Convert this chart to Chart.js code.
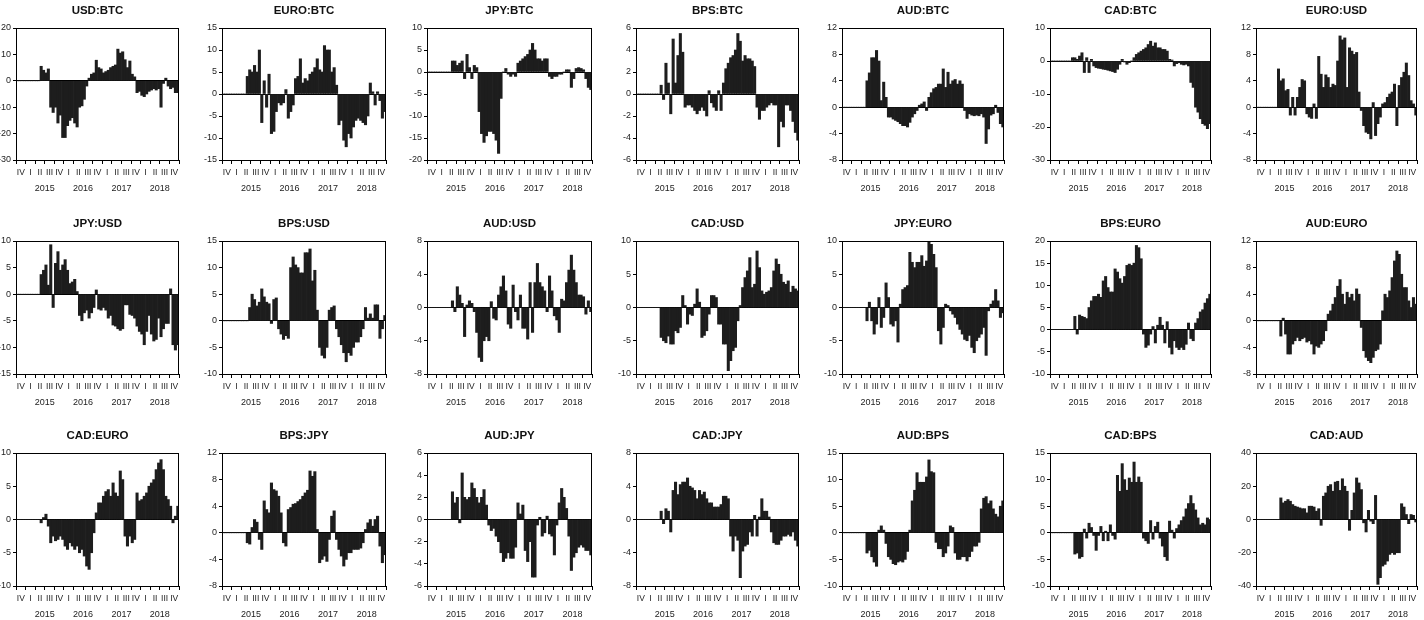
<!DOCTYPE html>
<html>
<head>
<meta charset="utf-8">
<title>Exchange rate pairs</title>
<script src="https://cdn.jsdelivr.net/npm/chart.js@4.4.1/dist/chart.umd.min.js"></script>
<style>
  html, body { margin: 0; padding: 0; background: #fff; }
  #board { position: relative; width: 1424px; height: 620px; overflow: hidden; }
  #board canvas { position: absolute; }
</style>
</head>
<body>
<div id="board"></div>
<script>
"use strict";

// x axis: 2014 Q4 .. 2018 Q4, four bars per quarter
const quarterLabels = ["IV", "I", "II", "III", "IV", "I", "II", "III", "IV", "I", "II", "III", "IV", "I", "II", "III", "IV"];
const yearLabels = ["2015", "2016", "2017", "2018"];
const yearTicks = [3, 7, 11, 15];

// ====SERIES====
const usdBtc = [0,0,0,0,0,0,0,0,0,0,
  5.5,4,3,4.5,-10,-12,-10,-16,-13,-21.5,
  -21.5,-17,-15,-14,-16,-17.5,-10,-9.5,-7,-2,
  1,2.5,3,7.8,5,4.5,3,3.5,4,5,
  5.5,6,12,10.5,11,8,5,7.5,2.5,1.5,
  -4.5,-4,-5.5,-6,-5,-4,-3.5,-3,-3.5,-3,
  -10,-1,1,-2,-3,-2.5,-4.5,-4.5];
const euroBtc = [0,0,0,0,0,0,0,0,0,0,
  4,5.5,5,6.5,5,10,-6.5,3,-3,4.5,
  -9,-8.5,-4,-2,-2.5,-2,1,-5.5,-4,-2.5,
  3.5,4,8,2.5,3.5,3,4.5,5,6,8,
  5.5,5,11,10,10,5,6,2,-7,-6,
  -10.5,-12,-9,-10,-7.5,-6,-5.5,-6,-6.5,-7,
  -5,2.5,0.5,-2.5,0.5,-1.5,-5.5,-4];
const jpyBtc = [0,0,0,0,0,0,0,0,0,0,
  2.5,2.5,1.5,2,2.5,-1.5,4,1,-1.5,1.5,
  1,-9,-14,-16,-14.5,-13.5,-13.5,-14,-15.5,-18.5,
  -6,0,0.8,-0.5,-1,-0.5,-1,2,2.5,3,
  3.5,4,5,6.5,5,3,3,2.5,3,3,
  -1,-1.5,-1,-1,-0.5,-0.5,0,0.5,0.5,-3.5,
  -1.5,0.8,1,0.8,0.5,-1.5,-3.5,-4];
const bpsBtc = [0,0,0,0,0,0,0,0,0,0,
  0.8,-0.5,2.8,1,-1.8,5,1,3.5,5.5,3.8,
  -1.2,-1,-1,-1.2,-1.5,-1.8,-1.5,-1.2,-1.5,-2,
  0.3,-0.8,-1.2,-1.5,0.3,-1.5,1,2.3,2.8,3.3,
  3.5,4,5.5,4.8,3,3.5,3.2,3.2,3,2.5,
  -1.2,-2.3,-1.5,-1.5,-1.2,-1,-0.8,-1,-1,-4.8,
  -2.5,-3,-1,-1,-1.5,-2.5,-3.5,-4.2];
const audBtc = [0,0,0,0,0,0,0,0,0,0,
  4,5.2,7.5,7.5,8.6,7,1,3.8,1.5,-1.5,
  -1.5,-1.8,-2,-2.2,-2.5,-2.8,-2.8,-3,-2.3,-1.5,
  -1,-0.5,0.3,0.5,0.8,-0.5,1.5,2.2,2.8,3,
  3.5,3.5,5.8,3,5.3,3.5,4,4.2,3.5,4,
  3.5,-0.5,-1.7,-1,-1.2,-1.3,-1.2,-1.3,-1,-1.5,
  -5.5,-3.3,-1.2,-1,0.3,-0.8,-2.5,-3];
const cadBtc = [0,0,0,0,0,0,0,0,0,1,
  1,0.5,1.5,2.5,-3.5,1,-3.5,0.5,-1.5,-2,
  -2.2,-2.3,-2.5,-2.6,-2.8,-3,-3.2,-3.5,-2.5,-1,
  0.5,-0.3,-1,-0.5,0,1,2,2.5,3,3.5,
  4,5,6,4.5,5.5,4,4,3.5,3.5,3,
  0.5,0.3,-1.5,-0.8,-0.5,-1,-1.2,-1,-1.5,-6.5,
  -8,-14,-15.5,-17.5,-19,-19.5,-20.5,-19];
const euroUsd = [0,0,0,0,0,0,0,0,0,5.8,
  4,4.3,2.5,2.7,-1.2,1.5,-1.2,1.5,3,4.2,
  4,-1,-1.5,-1.7,0.5,-1.7,7.7,5,3,4.9,
  4.5,3,3.5,3.3,7,10.8,10.2,10.5,3,9,
  8.5,8,8.3,2.3,-0.5,-2.8,-3.8,-4,-4.8,0.7,
  -4.3,-2.5,-1.5,0.5,0.7,1.5,2,2.3,3.5,-2.8,
  3.3,4.5,5.3,6.7,4.8,1,0.5,-1.2];
const jpyUsd = [0,0,0,0,0,0,0,0,0,0,
  3.7,4.5,5.5,1.7,9.3,-2.5,5.8,8,4.5,5.5,
  6.5,4.5,2,2.3,2.8,0.5,-4,-5,-3.5,-3,
  -4.5,-3.5,-2.5,0.8,-2.8,-3,-2.5,-3,-4.5,-4,
  -5.8,-6,-6.5,-6.8,-6.5,-2,-2,-3.8,-4,-4.5,
  -6,-7,-7.5,-9.5,-7,-4,-7.5,-8.8,-8.5,-4.5,
  -8,-6.5,-5.5,-5.5,1,-9.5,-10.5,-9.5];
const bpsUsd = [0,0,0,0,0,0,0,0,0,0,
  0,2.5,5,4,2.8,3.5,6,4.5,3.5,3.2,
  -0.5,4,4.3,-1.5,-2.5,-3.5,-2.8,-3.3,10,12,
  10.5,10,9,9,12.8,12.8,13.5,7.5,9.5,2,
  -5,-6.5,-7,-5,2,2.5,2.8,-1.5,-3,-4.5,
  -6,-7.7,-6,-6.5,-5,-4,-4,-3,-1.5,2.5,
  0.5,1.3,0.5,3,3,-3.3,-1.5,1];
const audUsd = [0,0,0,0,0,0,0,0,0,0,
  0.8,-0.5,2.5,1.5,0.5,-3.5,0.3,0.8,0.5,-0.5,
  -3,-6,-6.5,-4,-3.5,-4,0.7,-1.3,-1.5,1.5,
  2.5,3.8,2,-2,-2.5,2.7,-0.5,-1.5,1.5,-2.5,
  -2.5,-3.8,3,-3,3,5.3,3,2.5,2,-0.5,
  3.8,2,-1,-1.5,-3,1,0.8,3,4.5,6.3,
  4.5,3,1.5,1.5,1.3,-0.8,0.8,-0.5];
const cadUsd = [0,0,0,0,0,0,0,0,0,0,
  -4.5,-5,-5.3,-4.3,-5.5,-5.5,-3.5,-3.8,-3,1.8,
  0.3,-2.5,-1,-1.2,0.5,2.8,0.8,-4.5,-4.2,-3.5,
  -1,1.8,1.8,1.5,-2.5,-2.5,-5.5,-5.5,-9.5,-8,
  -6.5,-6,-2,0.3,3,4.5,5.5,7.5,3,3.5,
  8.5,6,2.5,2,2.3,2.5,3,5.5,7.3,6.5,
  5,3.8,3.5,4,2.3,3.2,2.8,2.5];
const jpyEuro = [0,0,0,0,0,0,0,0,0,0,
  -2,0.8,-2,-4,-2.5,1.5,-3,-1.5,3.7,1.5,
  -2.5,-2.8,-2,-5.2,0.5,2.7,3,3.3,8.3,6.8,
  6,6.8,6.8,7.8,6.2,7,9.8,9.5,8,6,
  -3.5,-5.5,-3,0.5,0.3,-0.5,-1,-1.5,-2.5,-3.3,
  -4,-4.8,-5,-4.2,-6,-6.8,-5,-4.5,-4,-3,
  -7.2,-0.5,0.5,1,2.7,1,-1.5,-0.8];
const bpsEuro = [0,0,0,0,0,0,0,0,0,0,
  3,-1,3.3,3,2.8,2.5,5,6.5,7.5,7.5,
  8,7.3,11,12,9.5,8.5,8.5,13.7,13,11.5,
  10.5,12,14.5,14.8,14.5,15,19,18.5,16,-1,
  -4,-3.5,-1,0.7,-3,1,2.8,1,-3,1.8,
  -4,-5.5,-2.5,-4,-4.5,-4,-4.5,-3.3,1.5,-2,
  -2.5,1.5,2.5,4,4.5,6,7,8];
const audEuro = [0,0,0,0,0,0,0,0,0,0,
  -2.3,0.4,-2,-5,-5,-3.5,-3,-2.5,-3,-2.7,
  -2.5,-3.2,-3,-3.5,-5,-3.8,-4,-3.5,-3,-1.5,
  1,1.5,2.5,3.5,5.2,6.2,4,2.5,4.3,3.5,
  4,3,4.8,4,-1,-4.5,-5.5,-6,-6.3,-5.5,
  -4.5,-4.3,-3.5,1.5,4,3.5,4.5,6.5,9,10.5,
  10,7,5,5,3,2,3.5,2.5];
const cadEuro = [0,0,0,0,0,0,0,0,0,0,
  -0.5,0.3,0.8,-1,-3.5,-2.5,-3.2,-3,-2.5,-3,
  -4,-4.5,-3.5,-4,-4.5,-4,-5,-4.5,-5.5,-7,
  -7.5,-5,-2,1,2.5,2.5,3.5,4.2,4.5,3.5,
  5.5,4,3.5,7.3,6,-2.5,-4,-2.5,-3.5,-3,
  4,2.8,3,3.5,4,5,5.5,6,7.5,8.5,
  9,7.5,3.5,3,2,-0.5,0.5,2];
const bpsJpy = [0,0,0,0,0,0,0,0,0,0,
  -1.5,-1.7,0.8,2,1.6,-1,-2.5,4.8,3.5,3,
  7.5,6.5,6.3,5.5,3,-1.5,-2,3.5,3.8,4.3,
  4.4,4.7,5,5.5,6,6.4,9.3,8.5,9.2,0.5,
  -4.5,-4,-3.5,-4.3,-1,2.5,3.3,-1,-2.5,-3.5,
  -5,-4,-3,-3,-2.5,-2.5,-2.5,-2.3,-1.5,0.5,
  1.5,2,1,2,2.5,-2,-4.5,-3.3];
const audJpy = [0,0,0,0,0,0,0,0,0,0,
  2.5,1.5,2,-0.3,4.2,2,1.8,2,3.3,2.8,
  2,1.5,2,2.7,1.3,-0.5,-1,-0.8,-1.5,-2,
  -3,-3.8,-3.5,-3,-3.5,-3.5,-2.5,1.5,0.5,1.3,
  -2.8,-3.8,-2,-5.2,-5.2,-0.5,0.2,-1.5,-1.2,0.3,
  -1.3,-1.5,-3.2,-0.5,1.5,2.8,2,1,-1.5,-4.6,
  -3.4,-3,-2.5,-2.3,-2.5,-2.8,-2.8,-3.2];
const cadJpy = [0,0,0,0,0,0,0,0,0,0,
  1,-0.5,1.3,1,-1.5,3.5,4.5,3,4.2,4.5,
  4.5,5,4,3.8,3.5,2.5,3.5,3,3.3,2.5,
  2,2,1.5,1.5,1.5,1.8,2.8,2.8,2.5,-2,
  -3.8,-2,-2.5,-7,-3.8,-3.2,-3,-1.5,-2,0.5,
  -2,0.3,2.5,1,1,0.3,-1.5,-2.8,-3,-3,
  -2.5,-2,-2,-1.8,-2,-1.5,-2.5,-3.2];
const audBps = [0,0,0,0,0,0,0,0,0,0,
  -3.8,-3.3,-4.5,-5.5,-6.3,0.5,1.3,0.5,-2,-4.5,
  -5,-5.8,-6,-5.5,-5.3,-5.5,-5,-3.5,0.5,6,
  8,11.3,9.5,9.5,9.5,10.5,13.7,11.5,11.3,-1.8,
  -3,-3,-4.5,-3.8,-2.5,1.3,1,-3.8,-5,-5,
  -4.5,-4.5,-5.3,-4.5,-3.5,-2.5,-2.5,-1.8,4.5,6.5,
  6.8,5.5,6,4.5,3.5,3,5,6];
const cadBps = [0,0,0,0,0,0,0,0,0,0,
  -4,-3.8,-4.8,-4.5,0.7,-1,1.8,1,-0.5,-3.3,
  -0.5,1.2,-1.5,0.3,-1.5,1.5,-0.5,-1.2,10.8,7.8,
  13,10,8,10.3,9.5,13.3,9.5,10.5,9.5,-1,
  -1.5,-2,2.3,-1.2,1.2,2,-1,-2.5,-4.5,-5.2,
  2.2,0.5,-1,0.8,1.5,2.3,3,4.5,5.5,7,
  5.5,4.3,2.8,1.5,1.8,1.5,2.8,2.5];
const cadAud = [0,0,0,0,0,0,0,0,0,0,
  13,10,11,12,11,9,8,7.5,7,6.5,
  6.5,4,8,8,7.5,5,6.5,-3.5,14,16,
  20,21,17,22.5,23,17.5,24.5,20,17,-6.5,
  5.5,16,25,22,18,-2,-7.5,5.5,-1,-2.5,
  14.5,-39,-35,-28,-27,-25,-21,-20,-21,-20,
  -20,9.5,7.5,3,-2.5,3,2.5,-1.5];

// panels, row by row
const titles = ["USD:BTC", "EURO:BTC", "JPY:BTC", "BPS:BTC", "AUD:BTC", "CAD:BTC", "EURO:USD",
  "JPY:USD", "BPS:USD", "AUD:USD", "CAD:USD", "JPY:EURO", "BPS:EURO", "AUD:EURO",
  "CAD:EURO", "BPS:JPY", "AUD:JPY", "CAD:JPY", "AUD:BPS", "CAD:BPS", "CAD:AUD"];
const series = [usdBtc, euroBtc, jpyBtc, bpsBtc, audBtc, cadBtc, euroUsd,
  jpyUsd, bpsUsd, audUsd, cadUsd, jpyEuro, bpsEuro, audEuro,
  cadEuro, bpsJpy, audJpy, cadJpy, audBps, cadBps, cadAud];
const yMins = [-30, -15, -20, -6, -8, -30, -8, -15, -10, -8, -10, -10, -10, -8, -10, -8, -6, -8, -10, -10, -40];
const yMaxs = [20, 15, 10, 6, 12, 10, 12, 10, 15, 8, 10, 10, 20, 12, 10, 12, 6, 8, 15, 15, 40];
const ySteps = [10, 5, 5, 2, 4, 10, 4, 5, 5, 4, 5, 5, 5, 4, 5, 4, 2, 4, 5, 5, 20];

// layout of plot boxes
const colLeft = [16, 222, 427, 636, 842, 1050, 1256];
const colRight = [179, 386, 592, 799, 1004, 1211, 1417];
const rowTop = [28, 241, 453];
const rowBottom = [162, 376, 588];
const AXIS_W = 30;
const TITLE_H = 28;
const BOTTOM_H = 34;

const periods = [];
quarterLabels.forEach((q, i) => {
  for (let k = 1; k <= 4; k++) periods.push(`${q}-${i}-${k}`);
});

const NARROW = "'Liberation Sans Narrow', 'Arial Narrow', 'Liberation Sans', Arial, sans-serif";
Chart.defaults.font.family = NARROW;
Chart.defaults.color = "#222";

// box round the plot area
const framePlugin = {
  id: "frame",
  afterDraw(chart) {
    const a = chart.chartArea;
    const c = chart.ctx;
    c.save();
    c.strokeStyle = "#000";
    c.lineWidth = 1;
    c.strokeRect(Math.round(a.left) + 0.5, Math.round(a.top) + 0.5,
      Math.round(a.right - a.left) - 1, Math.round(a.bottom - a.top));
    c.restore();
  },
};

const fixHeight = (h) => (scale) => { scale.height = h; };
const fixWidth = (w) => (scale) => { scale.width = w; };

// quarter/year axes share one setup, only ticks differ
const bandAxis = (weight, height, tickValues, labels, size, pad) => ({
  type: "linear",
  position: "bottom",
  weight: weight,
  min: 0,
  max: 17,
  offset: false,
  afterBuildTicks: (axis) => {
    axis.ticks = tickValues.map((v) => ({ value: v }));
  },
  afterFit: fixHeight(height),
  grid: { display: false, drawTicks: false, offset: false },
  border: { display: false },
  ticks: {
    autoSkip: false,
    maxRotation: 0,
    padding: pad,
    font: { size: size },
    callback: (v, i) => labels[i],
  },
});

const quarterTicks = quarterLabels.map((_, i) => i + 0.5);
const boundTicks = quarterLabels.concat([""]).map((_, i) => i);

const board = document.getElementById("board");

titles.forEach((title, p) => {
  const row = Math.floor(p / 7);
  const col = p % 7;
  const plotW = colRight[col] - colLeft[col];
  const plotH = rowBottom[row] - rowTop[row];

  const canvas = document.createElement("canvas");
  const w = AXIS_W + plotW + AXIS_W;
  const h = TITLE_H + plotH + BOTTOM_H;
  canvas.width = w;
  canvas.height = h;
  canvas.style.left = colLeft[col] - AXIS_W + "px";
  canvas.style.top = rowTop[row] - TITLE_H + "px";
  canvas.style.width = w + "px";
  canvas.style.height = h + "px";
  board.appendChild(canvas);

  new Chart(canvas.getContext("2d"), {
    type: "bar",
    data: {
      labels: periods,
      datasets: [
        {
          data: series[p],
          backgroundColor: "#1d1d1d",
          borderWidth: 0,
          barPercentage: 1,
          categoryPercentage: 1,
          xAxisID: "x",
          yAxisID: "y",
        },
      ],
    },
    plugins: [framePlugin],
    options: {
      responsive: false,
      animation: false,
      devicePixelRatio: 1,
      events: [],
      layout: { padding: { left: 0, right: 0, top: 0, bottom: 2 } },
      plugins: {
        legend: { display: false },
        tooltip: { enabled: false },
        title: {
          display: true,
          text: title,
          color: "#111",
          font: { family: "'Liberation Sans', Arial, sans-serif", size: 11.5, weight: "bold" },
          padding: { top: 4, bottom: 10.2 },
        },
      },
      scales: {
        x: { type: "category", display: false },
        xq: {
          type: "linear",
          position: "bottom",
          weight: 0,
          min: 0,
          max: 17,
          offset: false,
          afterBuildTicks: (axis) => {
            axis.ticks = boundTicks.map((v) => ({ value: v }));
          },
          afterFit: fixHeight(4),
          grid: { offset: false, drawOnChartArea: false, drawTicks: true, tickLength: 4, color: "#000" },
          border: { display: true, color: "#000" },
          ticks: { display: false },
        },
        xr: bandAxis(1, 14, quarterTicks, quarterLabels, 8.5, 4),
        xy: bandAxis(2, 16, yearTicks, yearLabels, 9, 5),
        y: {
          type: "linear",
          min: yMins[p],
          max: yMaxs[p],
          afterFit: fixWidth(AXIS_W),
          ticks: { stepSize: ySteps[p], padding: 2, font: { size: 9 } },
          grid: {
            drawOnChartArea: true,
            color: (ctx) => (ctx.tick && ctx.tick.value === 0 ? "#000" : "rgba(0,0,0,0)"),
            tickColor: "#000",
            tickLength: 3,
          },
          border: { display: true, color: "#000" },
        },
        // empty right-hand spacer so the title sits over the plot box
        yPad: {
          type: "linear",
          position: "right",
          min: 0,
          max: 1,
          afterFit: fixWidth(AXIS_W),
          grid: { display: false, drawTicks: false },
          border: { display: false },
          ticks: { display: false },
        },
      },
    },
  });
});
</script>
</body>
</html>
